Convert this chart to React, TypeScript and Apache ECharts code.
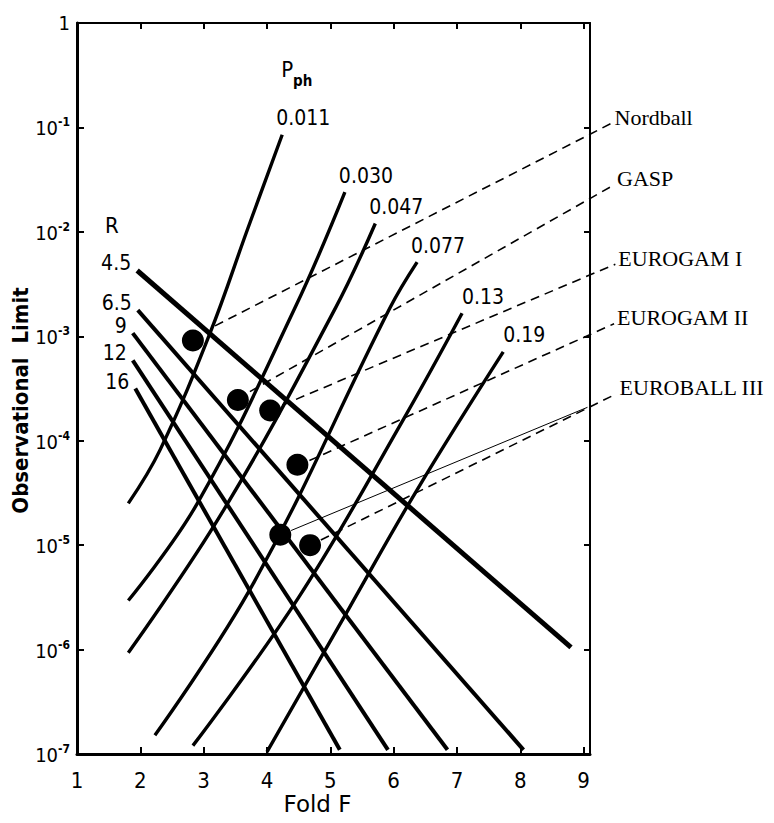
import React, { useEffect, useRef } from "react";
import * as echarts from "echarts";

// ---------- data (F = fold; limits stored as log10 of the observational limit) ----------
const foldTicks = [1, 2, 3, 4, 5, 6, 7, 8, 9];
const limitExponents = [0, -1, -2, -3, -4, -5, -6, -7];

// Resolving-power lines R (straight in log space): start and end points
const rLabels = ["4.5", "6.5", "9", "12", "16"];
const rStart = [[1.95, -2.37], [1.96, -2.75], [1.88, -2.97], [1.88, -3.23], [1.92, -3.5]];
const rEnd = [[8.8, -5.98], [8.05, -6.96], [6.85, -6.96], [5.91, -6.96], [5.15, -6.96]];

// Peak-to-total P_ph curves
const pphLabels = ["0.011", "0.030", "0.047", "0.077", "0.13", "0.19"];
const pph011 = [[1.81, -4.6], [2.31, -4.09], [3.1, -2.97], [3.69, -1.98], [4.24, -1.07]];
const pph030 = [[1.81, -5.53], [2.9, -4.6], [4.44, -2.73], [5.23, -1.62]];
const pph047 = [[1.81, -6.03], [3.3, -4.68], [5.08, -2.73], [5.71, -1.92]];
const pph077 = [[2.23, -6.82], [3.8, -5.35], [5.94, -2.73], [6.37, -2.29]];
const pph13 = [[2.83, -6.92], [4.5, -5.5], [6.15, -3.8], [7.08, -2.78]];
const pph19 = [[4.0, -6.98], [5.3, -5.6], [6.37, -4.47], [7.73, -3.15]];
const pphCurves = [pph011, pph030, pph047, pph077, pph13, pph19];

// Detector arrays (dots) and their leader lines to the labels
const detectorNames = ["Nordball", "GASP", "EUROGAM I", "EUROGAM II", "EUROBALL III"];
const dotPoints = [[2.83, -3.04], [3.54, -3.61], [4.05, -3.71], [4.48, -4.23], [4.21, -4.9], [4.68, -5.0]];
const leaderFrom = [[3.18, -2.9], [3.73, -3.53], [4.24, -3.66], [4.67, -4.19], [4.85, -4.95]];
const leaderTo = [[9.44, -0.96], [9.48, -1.55], [9.5, -2.31], [9.48, -2.88], [9.52, -3.55]];
const thinLeaderFrom = [4.38, -4.86];
const thinLeaderTo = [9.06, -3.68];

// Header annotations
const headerTexts = ["R", "P_ph"];
const headerPoints = [[1.55, -1.98], [4.47, -0.48]];

const pt = (p: number[]) => [p[0], Math.pow(10, p[1])];

const stencil = "DejaVu Sans Condensed, DejaVu Sans, sans-serif";
const plain = "DejaVu Sans, sans-serif";
const serif = "Liberation Serif, Times New Roman, serif";

export default function App() {
  const ref = useRef<HTMLDivElement>(null);

  useEffect(() => {
    document.body.style.margin = "0";
    const chart = echarts.init(ref.current!, null, { renderer: "svg" });

    const hidden = { color: "rgba(0,0,0,0)", opacity: 1 };

    const rSeries = rLabels.map((r, i) => ({
      type: "line",
      name: "R " + r,
      symbol: "circle",
      symbolSize: 2,
      itemStyle: hidden,
      emphasis: { disabled: true },
      lineStyle: { color: "#000", width: i === 0 ? 5 : 4 },
      data: [
        {
          value: pt(rStart[i]),
          label: {
            show: true,
            position: "left",
            distance: 5,
            offset: [0, -7],
            formatter: r,
            fontFamily: stencil,
            fontSize: 21,
            color: "#000",
          },
        },
        { value: pt(rEnd[i]) },
      ],
      z: 3,
    }));

    const pphSeries = pphCurves.map((c, i) => ({
      type: "line",
      name: "Pph " + pphLabels[i],
      smooth: 0.4,
      symbol: "circle",
      symbolSize: 2,
      itemStyle: hidden,
      emphasis: { disabled: true },
      lineStyle: { color: "#000", width: 3.4 },
      data: c.map((p, j) =>
        j === c.length - 1
          ? {
              value: pt(p),
              label: {
                show: true,
                position: "top",
                distance: 5,
                offset: [21, 0],
                formatter: pphLabels[i],
                fontFamily: stencil,
                fontSize: 21,
                color: "#000",
              },
            }
          : { value: pt(p) }
      ),
      z: 3,
    }));

    // leader lines live on a second, invisible grid with the same scale but a wider extent
    const leaderSeries = detectorNames.map((n, i) => ({
      type: "line",
      name: n,
      xAxisIndex: 2,
      yAxisIndex: 2,
      symbol: "none",
      emphasis: { disabled: true },
      lineStyle: { color: "#000", width: 1.6, type: [9, 6] },
      data: [pt(leaderFrom[i]), pt(leaderTo[i])],
      z: 2,
    }));

    const thinLeader = {
      type: "line",
      name: "EUROBALL III b",
      xAxisIndex: 2,
      yAxisIndex: 2,
      symbol: "none",
      emphasis: { disabled: true },
      lineStyle: { color: "#000", width: 1 },
      data: [pt(thinLeaderFrom), pt(thinLeaderTo)],
      z: 2,
    };

    const detectorLabels = {
      type: "scatter",
      name: "detector labels",
      xAxisIndex: 2,
      yAxisIndex: 2,
      clip: false,
      symbolSize: 0,
      itemStyle: hidden,
      emphasis: { disabled: true },
      data: leaderTo.map((p, i) => ({
        value: pt(p),
        label: {
          show: true,
          position: "right",
          distance: 3,
          offset: [0, -6],
          formatter: detectorNames[i],
          fontFamily: serif,
          fontSize: 22,
          color: "#000",
        },
      })),
      z: 5,
    };

    const dots = {
      type: "scatter",
      name: "arrays",
      symbol: "circle",
      symbolSize: 22,
      itemStyle: { color: "#000", opacity: 1 },
      emphasis: { disabled: true },
      data: dotPoints.map(pt),
      z: 4,
    };

    const headers = {
      type: "scatter",
      name: "headers",
      symbolSize: 0,
      itemStyle: hidden,
      emphasis: { disabled: true },
      data: headerPoints.map((p, i) => ({
        value: pt(p),
        label: {
          show: true,
          position: "inside",
          formatter: headerTexts[i] === "P_ph" ? "{p|P}{s|ph}" : "{p|R}",
          rich: {
            p: { fontFamily: stencil, fontSize: 22, color: "#000", verticalAlign: "top", padding: [0, 0, 8, 0] },
            s: { fontFamily: stencil, fontSize: 15, fontWeight: "bold", color: "#000", verticalAlign: "bottom" },
          },
        },
      })),
      z: 5,
    };

    const axisLineStyle = { color: "#000", width: 3 };

    chart.setOption({
      animation: false,
      backgroundColor: "#fff",
      grid: [
        { left: 77, right: 184, top: 23, bottom: 69, outerBoundsMode: "none", containLabel: false },
        { left: 77, right: 146, top: 23, bottom: 69, outerBoundsMode: "none", containLabel: false },
      ],
      xAxis: [
        {
          type: "value",
          gridIndex: 0,
          position: "bottom",
          min: 1,
          max: 9.1,
          interval: 1,
          axisLine: { lineStyle: axisLineStyle },
          axisTick: { inside: true, length: 7, lineStyle: { color: "#000", width: 2 } },
          axisLabel: {
            formatter: (v: number) => (foldTicks.includes(v) ? String(v) : ""),
            fontFamily: stencil,
            fontSize: 22,
            color: "#000",
            margin: 15,
          },
          splitLine: { show: false },
          name: "Fold F",
          nameLocation: "middle",
          nameGap: 38,
          nameMoveOverlap: false,
          nameTextStyle: { fontFamily: plain, fontSize: 23, color: "#000", padding: [0, 32, 0, 0] },
        },
        {
          type: "value",
          gridIndex: 0,
          position: "top",
          min: 1,
          max: 9.1,
          interval: 1,
          axisLine: { lineStyle: { color: "#000", width: 2 } },
          axisTick: { inside: true, length: 6, lineStyle: { color: "#000", width: 2 } },
          axisLabel: { show: false },
          splitLine: { show: false },
        },
        {
          type: "value",
          gridIndex: 1,
          min: 1,
          max: 9.7,
          show: false,
        },
      ],
      yAxis: [
        {
          type: "log",
          gridIndex: 0,
          logBase: 10,
          position: "left",
          min: 1e-7,
          max: 1,
          interval: 1,
          axisLine: { lineStyle: axisLineStyle },
          axisTick: { inside: true, length: 7, lineStyle: { color: "#000", width: 2 } },
          minorTick: { show: false },
          splitLine: { show: false },
          axisLabel: {
            margin: 7,
            color: "#000",
            formatter: (v: number) => {
              const e = Math.round(Math.log10(v));
              if (!limitExponents.includes(e)) return "";
              return e === 0 ? "{a|1}" : "{a|10}{b|" + e + "}";
            },
            rich: {
              a: { fontFamily: stencil, fontSize: 20, color: "#000", verticalAlign: "bottom" },
              b: { fontFamily: stencil, fontSize: 12, fontWeight: "bold", color: "#000", verticalAlign: "top", padding: [0, 0, 10, 0] },
            },
          },
          name: "Observational  Limit",
          nameLocation: "middle",
          nameGap: 46,
          nameMoveOverlap: false,
          nameTextStyle: { fontFamily: stencil, fontSize: 22, fontWeight: "bold", color: "#000", padding: [0, 24, 0, 0] },
        },
        {
          type: "log",
          gridIndex: 0,
          logBase: 10,
          position: "right",
          min: 1e-7,
          max: 1,
          interval: 1,
          axisLine: { lineStyle: { color: "#000", width: 2 } },
          axisTick: { inside: true, length: 6, lineStyle: { color: "#000", width: 2 } },
          minorTick: { show: false },
          splitLine: { show: false },
          axisLabel: { show: false },
        },
        {
          type: "log",
          gridIndex: 1,
          logBase: 10,
          min: 1e-7,
          max: 1,
          show: false,
        },
      ],
      series: [...rSeries, ...pphSeries, ...leaderSeries, thinLeader, dots, detectorLabels, headers],
    });

    return () => chart.dispose();
  }, []);

  return <div ref={ref} style={{ width: 774, height: 823 }} />;
}
